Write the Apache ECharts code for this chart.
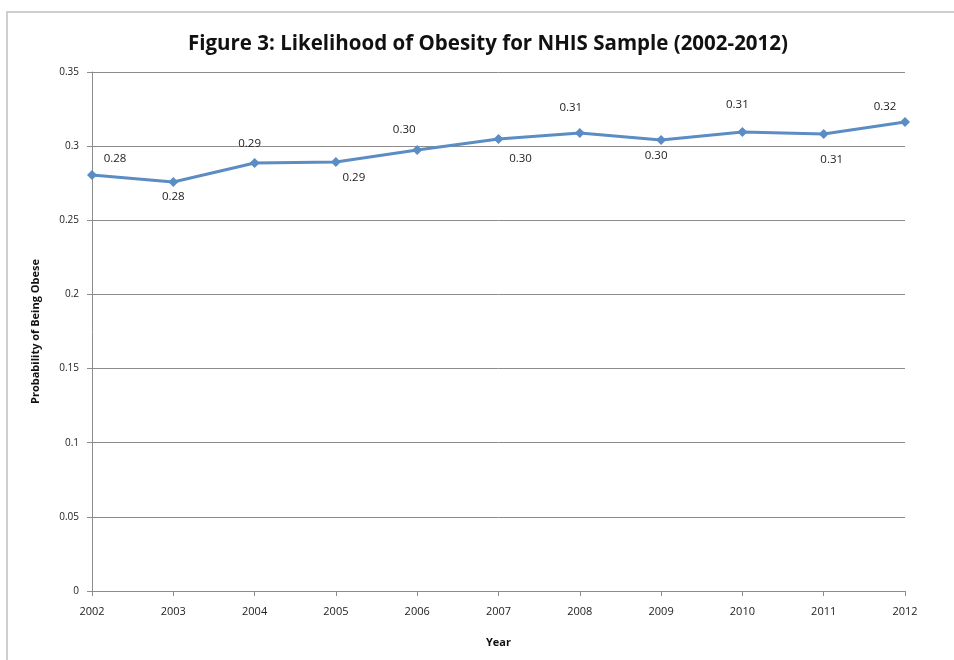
<!DOCTYPE html>
<html>
<head>
<meta charset="utf-8">
<script src="https://cdn.jsdelivr.net/npm/echarts@6/dist/echarts.min.js"></script>
<style>
  html, body { margin: 0; padding: 0; background: #ffffff; }
  #chart { width: 954px; height: 660px; }
</style>
</head>
<body>
<div id="chart"></div>
<script>
// Survey years and estimated probability of obesity per year
const years = ['2002', '2003', '2004', '2005', '2006', '2007', '2008', '2009', '2010', '2011', '2012'];
const probObese = [0.2805, 0.2758, 0.2886, 0.2893, 0.2974, 0.3048, 0.3089, 0.3041, 0.3095, 0.3082, 0.3163];

// Y-axis range
const yMin = 0;
const yMax = 0.35;
const yStep = 0.05;

// Where each value label sits relative to its marker: [dx, dy]
const labelOffsets = [
  [23, -16], [0, 15], [-5, -19], [18, 16], [-13, -20], [22, 20],
  [-9, -25], [-5, 16], [-5, -27], [8, 26], [-20, -15]
];

const FONT = '"Open Sans", "Noto Sans", sans-serif';

const chart = echarts.init(document.getElementById('chart'), null, { renderer: 'canvas' });

chart.setOption({
  backgroundColor: '#ffffff',
  animation: false,
  title: {
    text: 'Figure 3: Likelihood of Obesity for NHIS Sample (2002-2012)',
    left: 183,
    top: 29,
    textStyle: { fontFamily: FONT, fontWeight: 'bold', fontSize: 20.5, color: '#111111' }
  },
  graphic: [
    { type: 'line', shape: { x1: 6, y1: 12, x2: 954, y2: 12 }, style: { stroke: '#cfcfcf', lineWidth: 2 } },
    { type: 'line', shape: { x1: 7, y1: 12, x2: 7, y2: 660 }, style: { stroke: '#cfcfcf', lineWidth: 2 } }
  ],
  grid: { left: 92, right: 49, top: 72, bottom: 69, containLabel: false },
  xAxis: {
    type: 'category',
    data: years,
    boundaryGap: false,
    name: 'Year',
    nameLocation: 'middle',
    nameGap: 46,
    nameTextStyle: { fontFamily: FONT, fontWeight: 'bold', fontSize: 11, color: '#111111' },
    axisLine: { lineStyle: { color: '#8c8c8c', width: 1 } },
    axisTick: { show: true, length: 5, alignWithLabel: true, lineStyle: { color: '#8c8c8c' } },
    axisLabel: { fontFamily: FONT, fontSize: 11, color: '#222222', margin: 15 },
    splitLine: { show: false }
  },
  yAxis: {
    type: 'value',
    min: yMin,
    max: yMax,
    interval: yStep,
    name: 'Probability of Being Obese',
    nameLocation: 'middle',
    nameGap: 51,
    nameRotate: 90,
    nameTextStyle: { fontFamily: FONT, fontWeight: 'bold', fontSize: 11, color: '#111111' },
    axisLine: { show: true, lineStyle: { color: '#8c8c8c', width: 1 } },
    axisTick: { show: true, length: 5, lineStyle: { color: '#8c8c8c' } },
    axisLabel: {
      fontFamily: FONT, fontSize: 10, color: '#222222', margin: 13,
      formatter: v => String(Math.round(v * 100) / 100)
    },
    splitLine: { show: true, lineStyle: { color: '#8c8c8c', width: 1 } }
  },
  series: [{
    type: 'line',
    data: probObese.map((v, i) => ({
      value: v,
      label: { offset: labelOffsets[i] }
    })),
    symbol: 'diamond',
    symbolSize: 10,
    lineStyle: { color: '#5B8CC4', width: 3 },
    itemStyle: { color: '#5B8CC4' },
    label: {
      show: true,
      position: 'inside',
      fontFamily: FONT,
      fontSize: 11.5,
      color: '#222222',
      formatter: p => p.value.toFixed(2)
    }
  }]
});
</script>
</body>
</html>
